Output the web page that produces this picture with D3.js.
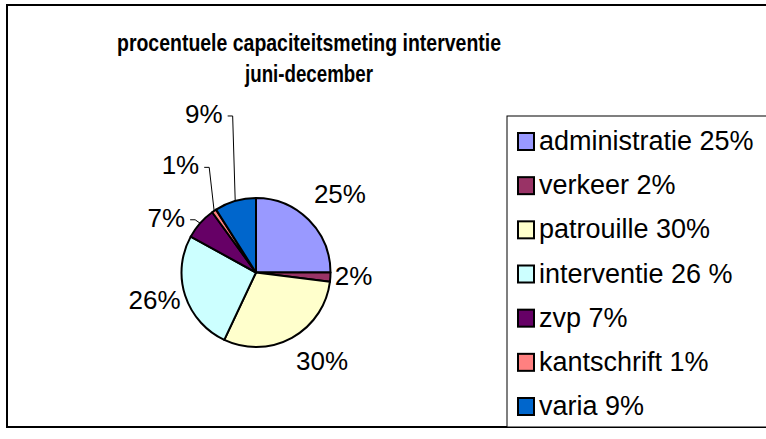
<!DOCTYPE html>
<html>
<head>
<meta charset="utf-8">
<script src="https://cdn.jsdelivr.net/npm/d3@7/dist/d3.min.js"></script>
<style>
  html, body { margin: 0; padding: 0; background: #fff; }
  svg { display: block; font-family: "Liberation Sans", Arial, sans-serif; }
</style>
</head>
<body>
<svg id="chart" width="766" height="439"></svg>
<script>
// ---- data ----
const categories = ["administratie", "verkeer", "patrouille", "interventie", "zvp", "kantschrift", "varia"];
const values = [25, 2, 30, 26, 7, 1, 9];
const valueLabels = ["25%", "2%", "30%", "26%", "7%", "1%", "9%"];
const legendLabels = ["administratie 25%", "verkeer 2%", "patrouille 30%", "interventie 26 %", "zvp 7%", "kantschrift 1%", "varia 9%"];
const colors = ["#9999FF", "#993366", "#FFFFCC", "#CCFFFF", "#660066", "#FF8080", "#0066CC"];
const titleLines = ["procentuele capaciteitsmeting interventie", "juni-december"];

// ---- label layout (distance as multiple of radius, angle nudge in degrees) ----
const labelDist = [1.54, 1.31, 1.48, 1.41, 1.41, 1.76, 2.24];
const labelTurn = [2, -1.5, -8, 3, -10, -1, -2];

const svg = d3.select("#chart");

// outer frame (clipped at right like the original)
svg.append("rect")
  .attr("x", 7).attr("y", 5).attr("width", 820).attr("height", 422)
  .attr("fill", "#fff").attr("stroke", "#000").attr("stroke-width", 2);

// title
const titleX = 309;
const titleY = [51, 82];
const titleW = [384, 128];
titleLines.forEach((t, i) => {
  svg.append("text")
    .attr("x", titleX).attr("y", titleY[i])
    .attr("text-anchor", "middle")
    .attr("font-size", 24).attr("font-weight", "bold")
    .attr("textLength", titleW[i]).attr("lengthAdjust", "spacingAndGlyphs")
    .text(t);
});

// pie
const cx = 256, cy = 272.5, r = 74.5;
const pie = d3.pie().sort(null).value(d => d)(values);
const arc = d3.arc().innerRadius(0).outerRadius(r);
const g = svg.append("g").attr("transform", `translate(${cx},${cy})`);
g.selectAll("path").data(pie).join("path")
  .attr("d", arc)
  .attr("fill", (d, i) => colors[i])
  .attr("stroke", "#000").attr("stroke-width", 2)
  .attr("stroke-linejoin", "round");

// data labels
pie.forEach((d, i) => {
  const mid = (d.startAngle + d.endAngle) / 2;
  const a = mid + labelTurn[i] * Math.PI / 180;
  const k = labelDist[i] * r;
  const x = Math.sin(a) * k, y = -Math.cos(a) * k;
  const t = g.append("text")
    .attr("x", x).attr("y", y).attr("dy", "0.35em")
    .attr("text-anchor", "middle")
    .attr("font-size", 26)
    .text(valueLabels[i]);
  if (values[i] < 10 && mid > Math.PI) {
    const w = t.node().getComputedTextLength();
    const right = x + w / 2;
    const ex = Math.sin(mid) * r, ey = -Math.cos(mid) * r;
    g.append("path")
      .attr("d", d3.line()([[right + 5, y + 2], [right + 10, y + 2], [ex, ey]]))
      .attr("fill", "none").attr("stroke", "#000").attr("stroke-width", 1);
  }
});

// legend
const lx = 507, ly = 116;
svg.append("rect")
  .attr("x", lx).attr("y", ly).attr("width", 400).attr("height", 427 - ly)
  .attr("fill", "#fff").attr("stroke", "#000").attr("stroke-width", 1);
const rowY = d3.scalePoint().domain(categories).range([132, 397]);
categories.forEach((c, i) => {
  const y = rowY(c);
  svg.append("rect")
    .attr("x", 518).attr("y", y + 1).attr("width", 16).attr("height", 17)
    .attr("fill", colors[i]).attr("stroke", "#000").attr("stroke-width", 2);
  svg.append("text")
    .attr("x", 539).attr("y", y + 18)
    .attr("font-size", 27)
    .text(legendLabels[i]);
});
</script>
</body>
</html>
